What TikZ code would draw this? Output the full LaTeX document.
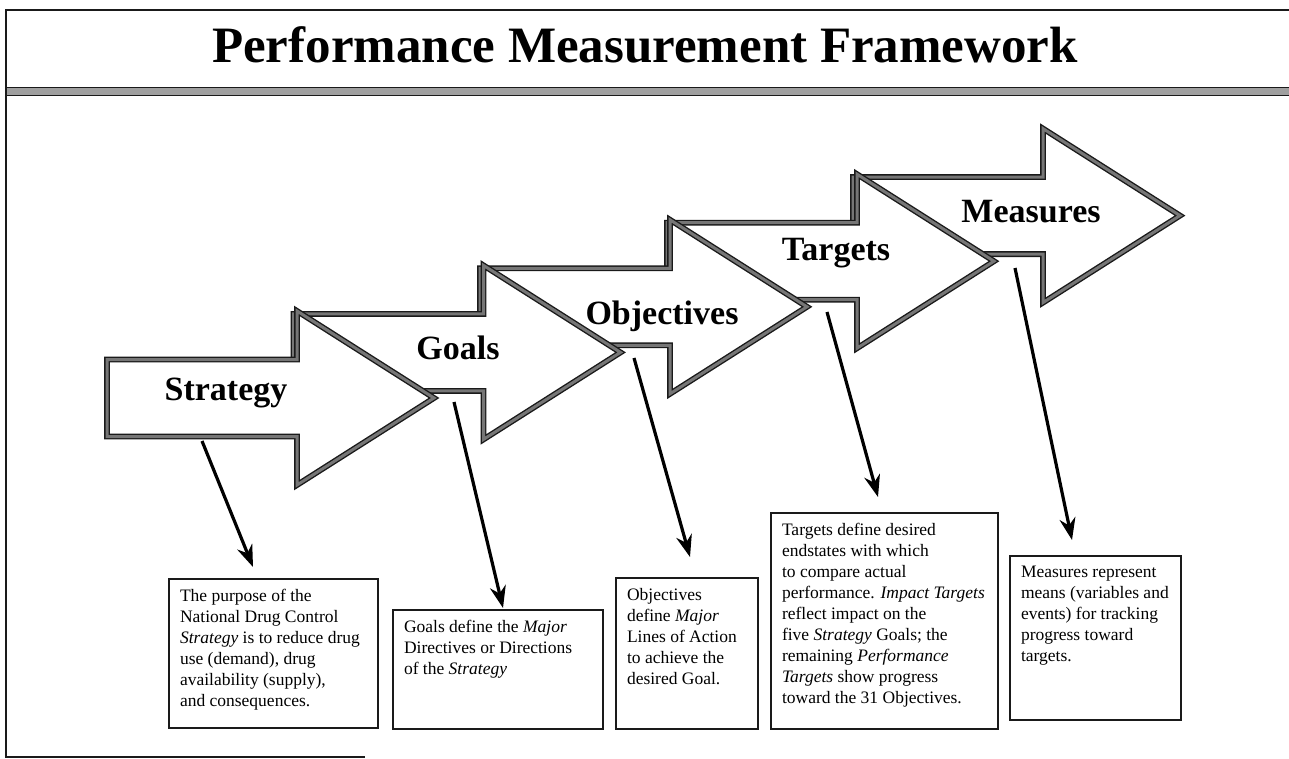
\documentclass[tikz,border=0pt]{standalone}
\usepackage{fontspec}
\setmainfont{Liberation Serif}
\usetikzlibrary{arrows.meta,positioning,calc}
\definecolor{Ink}{HTML}{1A1A1A}
\definecolor{Shade}{HTML}{767676}
\tikzset{
  phase/.style={draw=Ink,double=Shade,double distance=3pt,line width=1.4pt,fill=white,line join=miter},
  phaselabel/.style={font=\fontsize{34}{40}\selectfont\bfseries,inner sep=0pt},
  infobox/.style={draw=Ink,line width=2pt,anchor=north west,inner xsep=11pt,inner ysep=10pt,align=left,font=\fontsize{17.5}{21}\selectfont},
  link/.style={-{Stealth[length=22pt,width=16pt]},draw=black,line width=3.2pt},
  frame/.style={draw=Ink,line width=2pt},
}

\begin{document}
\begin{tikzpicture}[x=1pt,y=-1pt]
        \useasboundingbox (0,0) rectangle (1289,759);
        % page frame and header
        \draw[frame] (1289,10) -- (6,10) -- (6,757) -- (365,757);
        \node[font=\fontsize{51}{56}\selectfont\bfseries] (title) at (645,45) {Performance Measurement Framework};
        \draw[draw=Ink,fill=Shade!70,line width=1pt] (6,88) rectangle (1289,96);
        % step arrows, back to front
        \draw[phase] (1043,215.6) ++(-190,-38.5) -- ++(190,0) -- ++(0,-48.5) -- ++(137,87) -- ++(-137,87) -- ++(0,-48.5) -- ++(-190,0) -- cycle;
        \draw[phase] (857,261.2) ++(-190,-38.5) -- ++(190,0) -- ++(0,-48.5) -- ++(137,87) -- ++(-137,87) -- ++(0,-48.5) -- ++(-190,0) -- cycle;
        \draw[phase] (670,306.8) ++(-190,-38.5) -- ++(190,0) -- ++(0,-48.5) -- ++(137,87) -- ++(-137,87) -- ++(0,-48.5) -- ++(-190,0) -- cycle;
        \draw[phase] (483.5,352.4) ++(-190,-38.5) -- ++(190,0) -- ++(0,-48.5) -- ++(137,87) -- ++(-137,87) -- ++(0,-48.5) -- ++(-190,0) -- cycle;
        \draw[phase] (297,398) ++(-190,-38.5) -- ++(190,0) -- ++(0,-48.5) -- ++(137,87) -- ++(-137,87) -- ++(0,-48.5) -- ++(-190,0) -- cycle;
        \node[phaselabel] (l0) at (226,393) {Strategy};
        \node[phaselabel] (l1) at (458,348) {Goals};
        \node[phaselabel] (l2) at (662,316) {Objectives};
        \node[phaselabel] (l3) at (836,253) {Targets};
        \node[phaselabel] (l4) at (1031,212) {Measures};
        % description boxes
        \node[infobox] (b0) at (168,578) {\parbox[t][129pt][t]{187pt}{\raggedright The purpose of the\\ National Drug Control\\ \textit{Strategy} is to reduce drug\\ use (demand), drug\\ availability (supply),\\ and consequences.}};
        \node[infobox] (b1) at (392,609) {\parbox[t][99pt][t]{188pt}{\raggedright Goals define the \textit{Major}\\ Directives or Directions\\ of the \textit{Strategy}}};
        \node[infobox] (b2) at (615,577) {\parbox[t][131pt][t]{120pt}{\raggedright Objectives\\ define \textit{Major}\\ Lines of Action\\ to achieve the\\ desired Goal.}};
        \node[infobox] (b3) at (770,512) {\parbox[t][196pt][t]{205pt}{\raggedright Targets define desired\\ endstates with which\\ to compare actual\\ performance. \textit{Impact Targets}\\ reflect impact on the\\ five \textit{Strategy} Goals; the\\ remaining \textit{Performance}\\ \textit{Targets} show progress\\ toward the 31 Objectives.}};
        \node[infobox] (b4) at (1009,555) {\parbox[t][144pt][t]{149pt}{\raggedright Measures represent\\ means (variables and\\ events) for tracking\\ progress toward\\ targets.}};
        % pointers from arrows to boxes
        \coordinate (r0) at (202,441);
        \coordinate (r1) at (454,402);
        \coordinate (r2) at (634,358);
        \coordinate (r3) at (827,312);
        \coordinate (r4) at (1015,268);
        \draw[link] (r0) -- ([xshift=85pt,yshift=11pt]b0.north west);
        \draw[link] (r1) -- ([xshift=111pt,yshift=1pt]b1.north west);
        \draw[link] (r2) -- ([xshift=75pt,yshift=20pt]b2.north west);
        \draw[link] (r3) -- ([xshift=108pt,yshift=15pt]b3.north west);
        \draw[link] (r4) -- ([xshift=63pt,yshift=15pt]b4.north west);
      \end{tikzpicture}
\end{document}
